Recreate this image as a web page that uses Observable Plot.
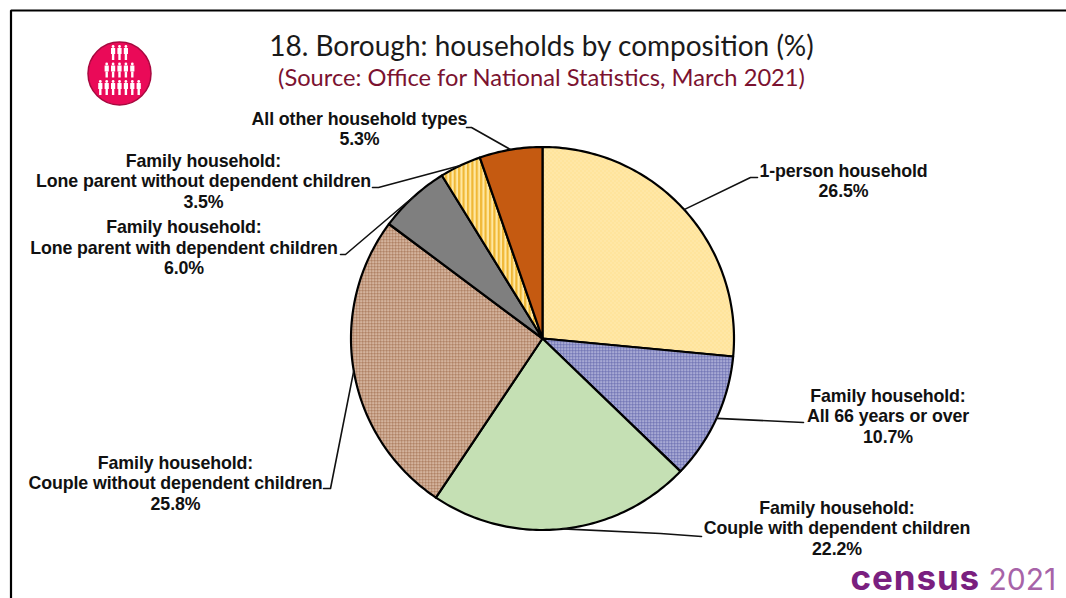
<!DOCTYPE html>
<html>
<head>
<meta charset="utf-8">
<script src="https://cdn.jsdelivr.net/npm/d3@7"></script>
<script src="https://cdn.jsdelivr.net/npm/@observablehq/plot@0.6"></script>
<style>
html,body{margin:0;padding:0;background:#fff;}
svg{display:block;}
.censusWord text{letter-spacing:0.9px;}
.lbl text{letter-spacing:-0.1px;}
</style>
</head>
<body>
<div id="chart"></div>
<script>
// ---- Data ----
const categories = [
  "1-person household",
  "Family household:\nAll 66 years or over",
  "Family household:\nCouple with dependent children",
  "Family household:\nCouple without dependent children",
  "Family household:\nLone parent with dependent children",
  "Family household:\nLone parent without dependent children",
  "All other household types"
];
const shares = [26.5, 10.7, 22.2, 25.8, 6.0, 3.5, 5.3];
const titleText = "18. Borough: households by composition (%)";
const subtitleText = "(Source: Office for National Statistics, March 2021)";
const logoRows = [3, 5, 7];

// ---- Layout and style (page units, fed through identity x / y scales) ----
const W = 1066, H = 598, cx = 542, cy = 338, R = 191.5;
const sliceFills = ["url(#pYellow)", "url(#pBlue)", "#C5E0B4", "url(#pBrown)", "#7F7F7F", "url(#pStripes)", "#C55A11"];
const labelAt = [[843,180],[887.5,415],[836.5,527],[175,482],[183.5,246.5],[203,180],[359,128]];
const leaderBends = [
  [[750,177],[757,177]],
  [[803,422]],
  [[660,533],[701,536]],
  [[330,488],[323,488]],
  [[405,203],[345,254],[340,254]],
  [[378,187],[372,187]],
  [[471,127],[466,127]]
];

const arcs = d3.pie().sort(null).value(d => d)(shares);
const polar = (a, r = R) => [cx + r * Math.sin(a), cy - r * Math.cos(a)];

const slicePolys = arcs.map(s => {
  const n = Math.ceil((s.endAngle - s.startAngle) / (Math.PI / 180));
  const pts = [[cx, cy]];
  for (let i = 0; i <= n; i++) pts.push(polar(s.startAngle + (s.endAngle - s.startAngle) * i / n));
  return pts;
});

const leaders = arcs.map((s, i) => {
  const mid = (s.startAngle + s.endAngle) / 2;
  return [polar(mid), ...leaderBends[i]];
});

const labels = categories.map((c, i) => ({
  text: `${c}\n${shares[i].toFixed(1)}%`,
  x: labelAt[i][0], y: labelAt[i][1]
}));

// logo: little people in rows
const people = logoRows.flatMap((n, r) =>
  d3.range(n).map(i => ({x: 119 + (i - (n - 1) / 2) * 6.4, y: [52, 69.5, 87][r]})));

// SVG patterns for the slices
function defs() {
  const d = d3.create("svg:defs");
  const pat = (id, w, h, bg, draw) => {
    const p = d.append("pattern").attr("id", id).attr("patternUnits", "userSpaceOnUse")
      .attr("width", w).attr("height", h);
    p.append("rect").attr("width", w).attr("height", h).attr("fill", bg);
    draw(p);
  };
  const cell = (p, x, y, s, c) => p.append("rect").attr("x", x).attr("y", y)
    .attr("width", s).attr("height", s).attr("fill", c);
  pat("pYellow", 4, 4, "#FFE49C", p => { cell(p, 0, 0, 1, "#FFF0C4"); cell(p, 2, 2, 1, "#FFF0C4"); });
  pat("pBlue", 3, 3, "#8B8EC6", p => { cell(p, 0, 0, 1.2, "#E4E5F4"); cell(p, 1.5, 1.5, 1.2, "#4F5299"); });
  pat("pBrown", 3, 3, "#C9A084", p => { cell(p, 0, 0, 1.2, "#F1E3D8"); cell(p, 1.5, 1.5, 1.2, "#7F4E32"); });
  pat("pStripes", 4.4, 5, "#FFE7A0", p => {
    p.append("rect").attr("width", 2.2).attr("height", 5).attr("fill", "#F0B836");
  });
  return d.node();
}

const textFont = "Liberation Sans";
const marks = [
  defs,
  // frame
  Plot.line([[10.5, H], [10.5, 10], [W, 10]], {stroke: "#000", strokeWidth: 2.2, strokeLinejoin: "miter"}),
  // title
  Plot.text([titleText], {x: () => 541, y: () => 47, text: d => d, fontFamily: "Lato", fontSize: 28, fill: "#1a1a1a"}),
  Plot.text([subtitleText], {x: () => 541, y: () => 78, text: d => d, fontFamily: "Lato", fontSize: 23.7, fill: "#7B1230"}),
  // logo
  Plot.dot([[119, 73]], {r: 31.5, fill: "#EA0A58", stroke: "#A8083F", strokeWidth: 1.5}),
  Plot.ruleX(people, {x: "x", y1: d => d.y - 4, y2: d => d.y + 2, stroke: "#fff", strokeWidth: 4.2}),
  Plot.ruleX(people, {x: "x", y1: d => d.y + 2, y2: d => d.y + 8, stroke: "#fff", strokeWidth: 2.4}),
  Plot.dot(people, {x: "x", y: d => d.y - 6, r: 1.4, fill: "#fff"}),
  // pie
  ...slicePolys.map((pts, i) => Plot.line(pts, {
    curve: "linear-closed", fill: sliceFills[i], stroke: "#000", strokeWidth: 2.2, strokeLinejoin: "round"
  })),
  // leaders
  ...leaders.map(pts => Plot.line(pts, {stroke: "#111", strokeWidth: 1.6})),
  // labels
  Plot.text(labels, {
    x: "x", y: "y", text: "text", fontFamily: textFont, fontWeight: "bold",
    fontSize: 17.8, lineHeight: 1.15, fill: "#111", lineAnchor: "middle", className: "lbl"
  }),
  // census logo
  Plot.text(["census"], {x: () => 850, y: () => 578.5, text: d => d, textAnchor: "start", fontFamily: "Inter",
    fontWeight: 700, fontSize: 35, fill: "#7A1F7F", className: "censusWord"}),
  Plot.text(["2021"], {x: () => 988, y: () => 580, text: d => d, textAnchor: "start", fontFamily: "Inter",
    fontWeight: 400, fontSize: 30, fill: "#A763A8"})
];

const chart = Plot.plot({
  width: W, height: H,
  marginTop: 0, marginRight: 0, marginBottom: 0, marginLeft: 0,
  style: {background: "#fff"},
  x: {domain: [0, W], range: [0, W], axis: null},
  y: {domain: [0, H], range: [0, H], axis: null},
  marks
});
document.getElementById("chart").appendChild(chart);
</script>
</body>
</html>
